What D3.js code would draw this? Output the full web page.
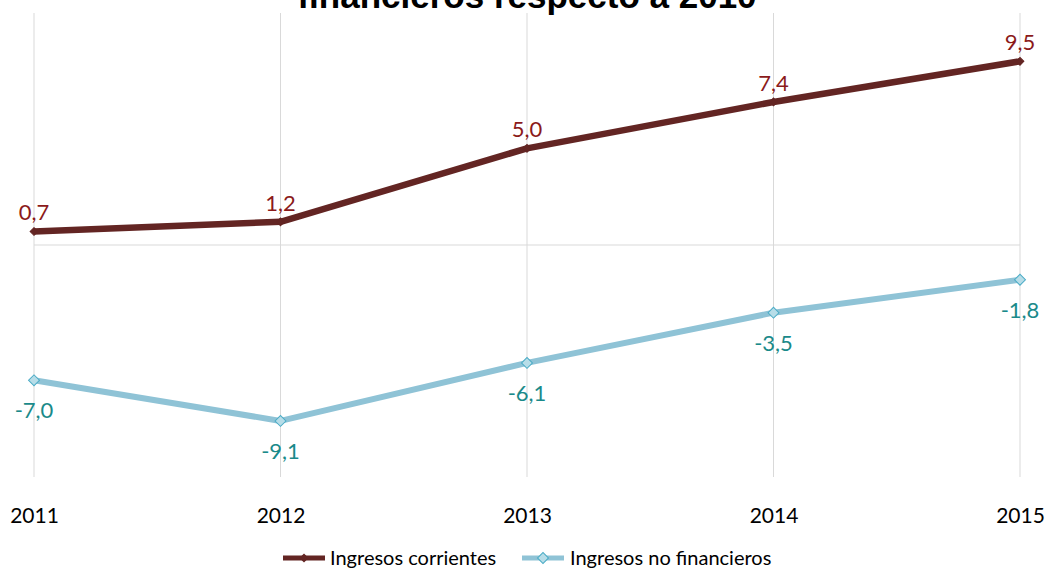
<!DOCTYPE html>
<html><head><meta charset="utf-8">
<script src="https://cdn.jsdelivr.net/npm/d3@7"></script>
<style>body{margin:0;background:#fff}svg{display:block}</style>
</head><body>
<svg id="c" width="1046" height="570"></svg>
<script>
const years = ["2011","2012","2013","2014","2015"];
const corrientes = [0.7, 1.2, 5.0, 7.4, 9.5];
const noFinancieros = [-7.0, -9.1, -6.1, -3.5, -1.8];
const seriesNames = ["Ingresos corrientes", "Ingresos no financieros"];
const titleText = "financieros respecto a 2010";

const svg = d3.select("#c");
const font = "Lato, 'Open Sans', sans-serif";
const x = d3.scalePoint().domain(years).range([34, 1020]);
const y = d3.scaleLinear().domain([-12, 12]).range([477, 13]);
const fmt = v => d3.format(".1f")(v).replace(".", ",").replace("\u2212", "-");

// vertical gridlines
svg.append("g").selectAll("line").data(years).join("line")
  .attr("x1", d => x(d)).attr("x2", d => x(d))
  .attr("y1", y(12)).attr("y2", y(-12))
  .attr("stroke", "#d9d9d9").attr("stroke-width", 1);
// zero axis
svg.append("line").attr("x1", x("2011")).attr("x2", x("2015"))
  .attr("y1", y(0)).attr("y2", y(0)).attr("stroke", "#d9d9d9").attr("stroke-width", 1);

// x-axis labels
const xAxis = d3.axisBottom(x).tickSize(0).tickPadding(0);
const gx = svg.append("g").attr("transform", "translate(0,508)").call(xAxis);
gx.select(".domain").remove();
gx.selectAll("text").attr("font-family", font).attr("font-size", 21).attr("fill", "#000").attr("dy", "0.71em");

// title (cut off at top, as in the reference)
svg.append("text").attr("x", 527).attr("y", 8).attr("text-anchor", "middle")
  .attr("font-family", "'Liberation Sans', Arial, sans-serif").attr("font-weight", "bold")
  .attr("font-size", 35).attr("fill", "#000").text(titleText);

const line = d3.line().x((d, i) => x(years[i])).y(d => y(d));
const sym = d3.symbol().type(d3.symbolSquare);

const series = [
  {name: seriesNames[0], values: corrientes, color: "#632523", fill: "#632523", stroke: "#632523", label: "#8b1a1a", above: true, size: 30, width: 6.5},
  {name: seriesNames[1], values: noFinancieros, color: "#8fc3d6", fill: "#b7dde8", stroke: "#4bacc6", label: "#1a8a8a", above: false, size: 60, width: 6}
];

series.forEach((s, si) => {
  svg.append("path").datum(s.values).attr("d", line)
    .attr("fill", "none").attr("stroke", s.color).attr("stroke-width", s.width).attr("stroke-linejoin", "round");
  svg.append("g").selectAll("path").data(s.values).join("path")
    .attr("transform", (d, i) => `translate(${x(years[i])},${y(d)}) rotate(45)`)
    .attr("d", sym.size(s.size)()).attr("fill", s.fill).attr("stroke", s.stroke).attr("stroke-width", 1);
  svg.append("g").selectAll("text").data(s.values).join("text")
    .attr("x", (d, i) => x(years[i])).attr("y", d => s.above ? y(d) - 11 : y(d) + 38)
    .attr("text-anchor", "middle").attr("font-family", font).attr("font-size", 22)
    .attr("fill", s.label).text(d => fmt(d));
});

// legend
const legend = [
  {x0: 283, tx: 330},
  {x0: 522, tx: 570}
];
series.forEach((s, i) => {
  const g = svg.append("g");
  const lx = legend[i].x0, ly = 558;
  g.append("line").attr("x1", lx).attr("x2", lx + 42).attr("y1", ly).attr("y2", ly)
    .attr("stroke", s.color).attr("stroke-width", 5);
  g.append("path").attr("transform", `translate(${lx + 21},${ly}) rotate(45)`)
    .attr("d", sym.size(s.size)()).attr("fill", s.fill).attr("stroke", s.stroke);
  g.append("text").attr("x", legend[i].tx).attr("y", ly + 7).attr("font-family", font)
    .attr("font-size", 20).attr("fill", "#000").text(s.name);
});
</script>
</body></html>
